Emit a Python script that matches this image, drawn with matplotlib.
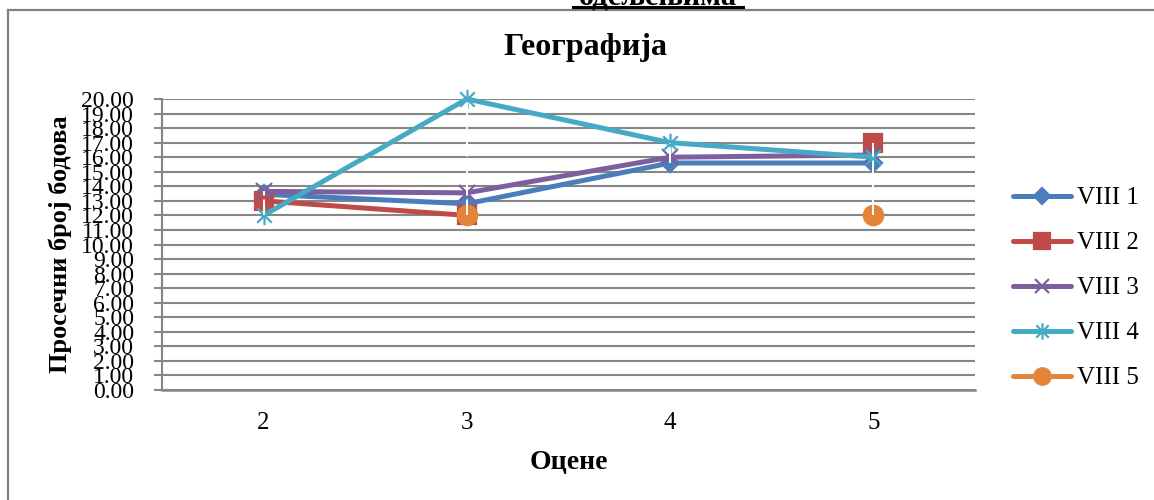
import matplotlib.pyplot as plt
import numpy as np
from matplotlib.path import Path
from matplotlib.lines import Line2D

plt.rcParams['font.family'] = ['Liberation Serif', 'DejaVu Serif']

categories = ['2', '3', '4', '5']
series_names = ['VIII 1', 'VIII 2', 'VIII 3', 'VIII 4', 'VIII 5']
viii1 = [13.45, 12.8, 15.6, 15.6]
viii2 = [13.0, 12.0, np.nan, 17.0]
viii3 = [13.65, 13.55, 16.0, 16.15]
viii4 = [12.0, 20.0, 17.0, 16.0]
viii5 = [np.nan, 12.0, np.nan, 12.0]
values = [viii1, viii2, viii3, viii4, viii5]

colors = ['#4A7EBB', '#BE4B48', '#7D5FA0', '#46AAC5', '#E3843A']

# excel style asterisk: vertical bar + x
star = Path([(0, -1), (0, 1), (-0.75, -0.75), (0.75, 0.75), (-0.75, 0.75), (0.75, -0.75)],
            [Path.MOVETO, Path.LINETO, Path.MOVETO, Path.LINETO, Path.MOVETO, Path.LINETO])
markers = ['D', 's', 'x', star, 'o']
msizes = [9, 13, 12, 14, 14]

W, H = 1154, 500
fig = plt.figure(figsize=(W / 100, H / 100), dpi=100)

# outer chart border
fig.add_artist(Line2D([7.5 / W, 7.5 / W], [0, 1 - 9.5 / H], color='#808080', lw=1.6))
fig.add_artist(Line2D([7.5 / W, 1], [1 - 9.5 / H, 1 - 9.5 / H], color='#808080', lw=1.6))

# cut heading from the document above
fig.text(658 / W, 1 - 4.5 / H, 'одељењима', ha='center', va='baseline',
         fontsize=22, fontweight='bold')
fig.add_artist(Line2D([573 / W, 743 / W], [1 - 7 / H, 1 - 7 / H], color='black', lw=2.2))

ax = fig.add_axes([162 / W, 1 - 390 / H, (975 - 162) / W, (390 - 99) / H])

x = np.arange(len(categories))
for i in range(len(series_names)):
    ax.plot(x, values[i], color=colors[i], lw=3.6, marker=markers[i], ms=msizes[i],
            mew=1.6, mec=colors[i], mfc=colors[i], label=series_names[i], zorder=3 + i,
            solid_capstyle='round', clip_on=False)

# high-low lines
arr = np.array(values)
lo = np.nanmin(arr, axis=0)
hi = np.nanmax(arr, axis=0)
ax.vlines(x, lo, hi, colors='white', lw=1.4, linestyles=(0, (8, 2)), zorder=10)

ax.set_xlim(-0.5, len(categories) - 0.5)
ax.set_ylim(0, 20)
ax.set_yticks(np.arange(0, 21, 1))
ax.set_yticklabels(['%.2f' % v for v in np.arange(0, 21, 1)], fontsize=17)
ax.set_xticks(x)
ax.set_xticklabels(categories, fontsize=18)
ax.tick_params(axis='y', length=6, width=1.5, color='#868686', pad=14)
ax.tick_params(axis='x', length=0, pad=16)
ax.grid(axis='y', color='#868686', lw=1.5)
ax.set_axisbelow(True)
for s in ['top', 'right']:
    ax.spines[s].set_visible(False)
ax.spines['left'].set_color('#868686')
ax.spines['left'].set_linewidth(1.5)
ax.spines['bottom'].set_color('#868686')
ax.spines['bottom'].set_linewidth(1.8)

ax.set_xlabel('Оцене', fontsize=20, fontweight='bold')
ax.xaxis.set_label_coords(0.5, -(462 - 390) / (390 - 99), transform=ax.transAxes)
ax.xaxis.label.set_va('center')
ax.set_ylabel('Просечни број бодова', fontsize=19, fontweight='bold')
ax.yaxis.set_label_coords(-(162 - 60) / (975 - 162), 0.5)
ax.yaxis.label.set_va('center')
fig.text(585 / W, 1 - 48 / H, 'Географија', ha='center', va='center',
         fontsize=23, fontweight='bold')

leg = ax.legend(loc='center left', bbox_to_anchor=(1013 / W, 1 - 288 / H),
                bbox_transform=fig.transFigure, frameon=False, fontsize=18,
                handlelength=2.3, handletextpad=0.25, labelspacing=0.9,
                borderpad=0, borderaxespad=0, markerscale=0.85)

fig.savefig('out.png', dpi=100)
